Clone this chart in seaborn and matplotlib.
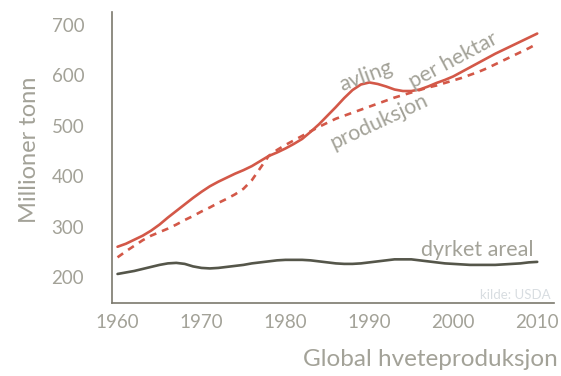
import matplotlib
matplotlib.use("Agg")
import matplotlib.pyplot as plt
import seaborn as sns
import pandas as pd

years = list(range(1960, 2011))
avling = [260, 266, 274, 282, 292, 304, 318, 331, 344, 357,
          369, 380, 389, 397, 405, 412, 420, 430, 440, 447,
          455, 464, 474, 488, 503, 520, 537, 555, 571, 582,
          586, 583, 578, 572, 569, 569, 572, 578, 585, 591,
          598, 607, 616, 625, 634, 643, 651, 659, 667, 675, 683]
produksjon = [239, 251, 262, 273, 282, 289, 296, 304, 313, 321,
              330, 338, 347, 355, 364, 375, 392, 416, 440, 452,
              462, 471, 480, 489, 498, 506, 514, 520, 526, 532,
              538, 544, 550, 556, 561, 566, 571, 576, 580, 585,
              590, 595, 601, 607, 614, 622, 630, 638, 646, 654, 663]
areal = [206, 209, 212, 216, 220, 224, 227, 228, 226, 221,
         218, 217, 218, 220, 222, 224, 227, 229, 231, 233,
         234, 234, 234, 233, 231, 229, 227, 226, 226, 227,
         229, 231, 233, 235, 235, 235, 233, 231, 229, 227,
         226, 225, 224, 224, 224, 224, 225, 226, 227, 229, 230]
xticks = [1960, 1970, 1980, 1990, 2000, 2010]
yticks = [200, 300, 400, 500, 600, 700]

df = pd.DataFrame({"year": years, "avling": avling, "produksjon": produksjon, "areal": areal})

sns.set_style("white")
plt.rcParams["font.family"] = ["Lato", "DejaVu Sans"]

RED = "#d35848"
DARK = "#55564a"
GRAY = "#a3a298"
SPINE = "#7b796d"

fig = plt.figure(figsize=(5.61, 3.76), dpi=100)
ax = fig.add_axes([112 / 561, 73 / 376, 442 / 561, 291 / 376])

sns.lineplot(data=df, x="year", y="avling", ax=ax, color=RED, linewidth=1.9)
sns.lineplot(data=df, x="year", y="produksjon", ax=ax, color=RED, linewidth=1.9)
ax.lines[-1].set_dashes([2.6, 2.3])
sns.lineplot(data=df, x="year", y="areal", ax=ax, color=DARK, linewidth=1.9)
for ln in ax.lines:
    ln.set_solid_joinstyle("round")
    ln.set_solid_capstyle("round")

ax.set_xlim(1959.34, 2012.0)
ax.set_ylim(148.4, 725.8)
ax.set_xticks(xticks)
ax.set_yticks(yticks)
ax.tick_params(axis="both", length=0, labelsize=13.5, labelcolor=GRAY)
ax.tick_params(axis="y", pad=20)
ax.tick_params(axis="x", pad=8)
ax.set_xlabel("")
ax.set_ylabel("")
for s in ["top", "right"]:
    ax.spines[s].set_visible(False)
for s in ["left", "bottom"]:
    ax.spines[s].set_color(SPINE)
    ax.spines[s].set_linewidth(1.2)

fig.text(30 / 561, 1 - 150 / 376, "Millioner tonn", rotation=90, ha="center", va="center",
         fontsize=17, color=GRAY)
fig.text(558 / 561, 1 - 360 / 376, "Global hveteproduksjon", ha="right", va="center",
         fontsize=17.5, color=GRAY)

ax.text(1989.6, 598, "avling", rotation=20, ha="center", va="center", fontsize=15.5,
        color=GRAY, rotation_mode="anchor")
ax.text(2000.0, 630, "per hektar", rotation=28, ha="center", va="center", fontsize=15.5,
        color=GRAY, rotation_mode="anchor")
ax.text(1991.2, 509, "produksjon", rotation=25, ha="center", va="center", fontsize=15.5,
        color=GRAY, rotation_mode="anchor")
ax.text(2009.5, 254, "dyrket areal", ha="right", va="center", fontsize=15.5, color=GRAY)
ax.text(2011.6, 164, "kilde: USDA", ha="right", va="center", fontsize=9.5, color="#d8dde1")

fig.savefig("out.png", dpi=100)
